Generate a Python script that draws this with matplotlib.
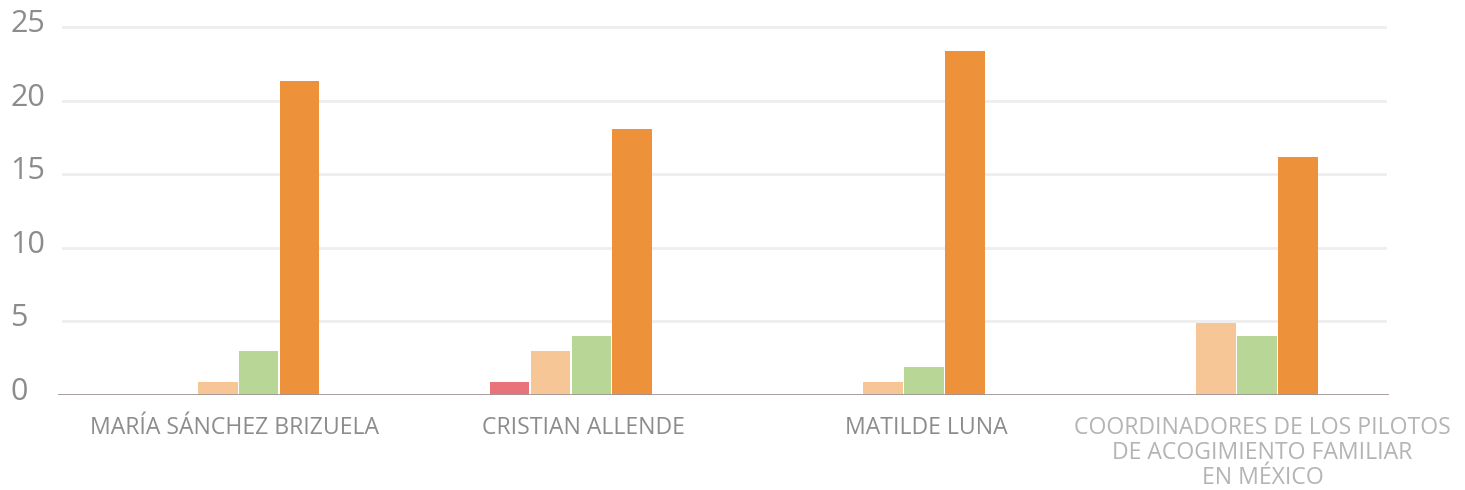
import numpy as np
import matplotlib.pyplot as plt
import matplotlib.transforms as mtransforms

plt.rcParams['font.family'] = ['Open Sans', 'DejaVu Sans']

# --- data ---
categories = [
    'MARÍA SÁNCHEZ BRIZUELA',
    'CRISTIAN ALLENDE',
    'MATILDE LUNA',
    'COORDINADORES DE LOS PILOTOS\nDE ACOGIMIENTO FAMILIAR\nEN MÉXICO',
]
serie_rojo = [0, 0.9, 0, 0]
serie_durazno = [0.9, 3.0, 0.9, 4.9]
serie_verde = [3.0, 4.0, 1.9, 4.0]
serie_naranja = [21.3, 18.1, 23.4, 16.2]
y_ticks = [0, 5, 10, 15, 20, 25]

series = [serie_rojo, serie_durazno, serie_verde, serie_naranja]
colors = ['#E8747A', '#F7C697', '#B8D797', '#EE913B']

# layout
bar_w = 0.123
first_offset = 0.357
label_pos = [0.53, 1.58, 2.61, 3.62]
label_colors = ['#8C8C8C', '#8C8C8C', '#8C8C8C', '#B4B4B4']

fig = plt.figure(figsize=(14.65, 4.9), dpi=100)
ax = fig.add_axes([58 / 1465, 1 - 395 / 490, (1389 - 58) / 1465, (395 - 27) / 490])

x = np.arange(len(categories))
for k, (vals, col) in enumerate(zip(series, colors)):
    ax.bar(x + first_offset + k * bar_w, vals, width=bar_w * 0.97,
           color=col, edgecolor='none', zorder=3)

ax.set_xlim(0, 4)
ax.set_ylim(0, 25)

# gridlines
for t in y_ticks[1:]:
    ax.axhline(t, xmin=5 / 1331, xmax=1 - 4 / 1331, color='#EEEEEE',
               linewidth=2, zorder=1, clip_on=False)
ax.axhline(0, color='#A09598', linewidth=2, zorder=4)

for s in ax.spines.values():
    s.set_visible(False)

# y labels: left aligned, sitting a bit above their gridline
ax.set_yticks([])
trans = mtransforms.blended_transform_factory(ax.transAxes, ax.transData)
off = mtransforms.ScaledTranslation(-48 / 100, 3 / 100, fig.dpi_scale_trans)
for t in y_ticks:
    ax.text(0, t, str(t), transform=trans + off, fontsize=22, color='#8C8C8C',
            ha='left', va='center')

ax.set_xticks(label_pos)
ax.set_xticklabels(categories, fontsize=16.6, linespacing=1.06)
ax.tick_params(axis='x', length=0, pad=15)
for lab, c in zip(ax.get_xticklabels(), label_colors):
    lab.set_color(c)

fig.savefig('out.png', dpi=100, facecolor='white')
